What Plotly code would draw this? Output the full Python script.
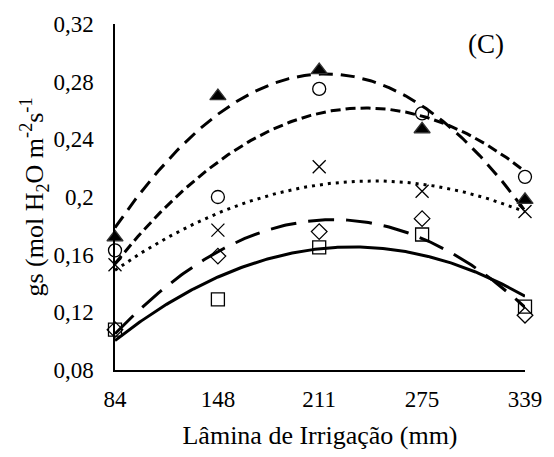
import numpy as np
import plotly.graph_objects as go

lamina = [84, 148, 211, 275, 339]
tick_text = ["84", "148", "211", "275", "339"]
y_ticks = [0.08, 0.12, 0.16, 0.20, 0.24, 0.28, 0.32]
y_tick_text = ["0,08", "0,12", "0,16", "0,2", "0,24", "0,28", "0,32"]

s_triangle = [0.172, 0.270, 0.288, 0.247, 0.198]
s_circle = [0.163, 0.200, 0.275, 0.258, 0.214]
s_cross = [0.153, 0.177, 0.221, 0.204, 0.190]
s_diamond = [0.108, 0.159, 0.176, 0.185, 0.118]
s_square = [0.108, 0.129, 0.165, 0.174, 0.124]

series = [
    (s_square, "square-open", 13, "solid", 3),
    (s_diamond, "diamond-open", 12, "26px,12px", 3),
    (s_cross, "x-thin-open", 13, "3px,5px", 3),
    (s_circle, "circle-open", 13, "10px,5px", 3),
    (s_triangle, "triangle-up", 14, "14px,8px", 3),
]

fig = go.Figure()
xs = np.linspace(84, 339, 200)
for vals, sym, size, dash, w in series:
    coef = np.polyfit(lamina, vals, 2)
    fig.add_trace(go.Scatter(x=xs, y=np.polyval(coef, xs), mode="lines",
                             line=dict(color="black", width=w, dash=dash),
                             cliponaxis=False,
                             showlegend=False, hoverinfo="skip"))
for vals, sym, size, dash, w in series:
    fig.add_trace(go.Scatter(x=lamina, y=vals, mode="markers",
                             marker=dict(symbol=sym, size=size, color="black",
                                         line=dict(color="#333333", width=1.3)),
                             cliponaxis=False,
                             showlegend=False))

font = "Liberation Serif"
fig.update_layout(
    width=554, height=457,
    margin=dict(l=115, r=27, t=22, b=84),
    paper_bgcolor="white", plot_bgcolor="white",
    font=dict(family=font, size=23, color="black"),
    xaxis=dict(range=[84, 339], tickvals=lamina, ticktext=tick_text,
               showline=True, linecolor="black", linewidth=1.5,
               showgrid=False, zeroline=False, ticks="",
               tickfont=dict(family=font, size=23), ticklabelstandoff=8,
               title=dict(text="Lâmina de Irrigação (mm)", font=dict(family=font, size=26), standoff=14)),
    yaxis=dict(range=[0.08, 0.32], tickvals=y_ticks, ticktext=y_tick_text,
               showline=True, linecolor="black", linewidth=1.5,
               showgrid=False, zeroline=False, ticks="", ticklen=0,
               tickfont=dict(family=font, size=23), ticklabelstandoff=15,
               title=dict(text="gs (mol H<sub>2</sub>O m<sup>-2</sup>s<sup>-1</sup>",
                          font=dict(family=font, size=26), standoff=2)),
    annotations=[dict(text="(C)", x=0.905, y=0.943, xref="paper", yref="paper",
                      xanchor="center", yanchor="middle",
                      showarrow=False, font=dict(size=27, family=font))],
)
fig.write_html("out.html")
